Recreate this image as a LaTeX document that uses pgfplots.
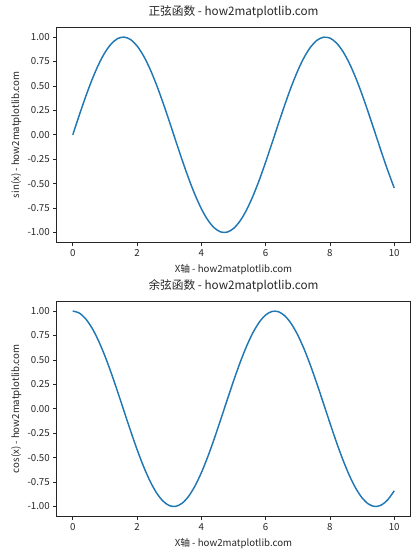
\documentclass[border=0pt]{standalone}
\usepackage{pgfplots}
\pgfplotsset{compat=1.18}
\usepackage{fontspec}
\setmainfont{Noto Sans CJK SC}
\definecolor{mplblue}{HTML}{1F77B4}
\definecolor{axgray}{HTML}{262626}
\pgfplotstableread{
x s c
0.0 0.0000 1.0000
0.2 0.1987 0.9801
0.4 0.3894 0.9211
0.6 0.5646 0.8253
0.8 0.7174 0.6967
1.0 0.8415 0.5403
1.2 0.9320 0.3624
1.4 0.9854 0.1700
1.6 0.9996 -0.0292
1.8 0.9738 -0.2272
2.0 0.9093 -0.4161
2.2 0.8085 -0.5885
2.4 0.6755 -0.7374
2.6 0.5155 -0.8569
2.8 0.3350 -0.9422
3.0 0.1411 -0.9900
3.2 -0.0584 -0.9983
3.4 -0.2555 -0.9668
3.6 -0.4425 -0.8968
3.8 -0.6119 -0.7910
4.0 -0.7568 -0.6536
4.2 -0.8716 -0.4903
4.4 -0.9516 -0.3073
4.6 -0.9937 -0.1122
4.8 -0.9962 0.0875
5.0 -0.9589 0.2837
5.2 -0.8835 0.4685
5.4 -0.7728 0.6347
5.6 -0.6313 0.7756
5.8 -0.4646 0.8855
6.0 -0.2794 0.9602
6.2 -0.0831 0.9965
6.4 0.1165 0.9932
6.6 0.3115 0.9502
6.8 0.4941 0.8694
7.0 0.6570 0.7539
7.2 0.7937 0.6084
7.4 0.8987 0.4385
7.6 0.9679 0.2513
7.8 0.9985 0.0540
8.0 0.9894 -0.1455
8.2 0.9407 -0.3392
8.4 0.8546 -0.5193
8.6 0.7344 -0.6787
8.8 0.5849 -0.8111
9.0 0.4121 -0.9111
9.2 0.2229 -0.9748
9.4 0.0248 -0.9997
9.6 -0.1743 -0.9847
9.8 -0.3665 -0.9304
10.0 -0.5440 -0.8391
}\datatable
\pgfplotsset{
  myax/.style={
    scale only axis,
    width=353.6pt, height=215pt,
    xmin=-0.5, xmax=10.5, ymin=-1.1, ymax=1.1,
    axis line style={axgray, line width=0.8pt},
    tick style={axgray, line width=0.8pt},
    tick align=outside, tick pos=left,
    major tick length=3.4pt,
    xtick={0,2,4,6,8,10},
    ytick={-1,-0.75,-0.5,-0.25,0,0.25,0.5,0.75,1},
    yticklabel style={/pgf/number format/.cd, fixed, fixed zerofill, precision=2},
    /pgf/number format/assume math mode=true,
    ticklabel style={font=\fontsize{9.7}{11}\selectfont, text=axgray},
    label style={font=\fontsize{9.7}{11}\selectfont, text=axgray},
    title style={font=\fontsize{11.7}{14}\selectfont, text=axgray, at={(0.5,1)}, anchor=base, yshift=5.5pt},
    xlabel style={at={(0.5,0)}, anchor=base, yshift=-30pt},
    ylabel style={at={(0,0.5)}, anchor=base, yshift=37.5pt},
    xlabel={X轴 - how2matplotlib.com},
  }
}
\begin{document}
\begin{tikzpicture}
\path[use as bounding box] (0pt,0pt) rectangle (420pt,560pt);
\begin{axis}[myax, at={(56.7pt,317.7pt)}, anchor=south west,
  title={正弦函数 - how2matplotlib.com},
  ylabel={sin(x) - how2matplotlib.com}]
\addplot[mplblue, line width=1.46pt, smooth] table[x=x, y=s] {\datatable};
\end{axis}
\begin{axis}[myax, at={(56.7pt,43.7pt)}, anchor=south west,
  title={余弦函数 - how2matplotlib.com},
  ylabel={cos(x) - how2matplotlib.com}]
\addplot[mplblue, line width=1.46pt, smooth] table[x=x, y=c] {\datatable};
\end{axis}
\end{tikzpicture}
\end{document}
